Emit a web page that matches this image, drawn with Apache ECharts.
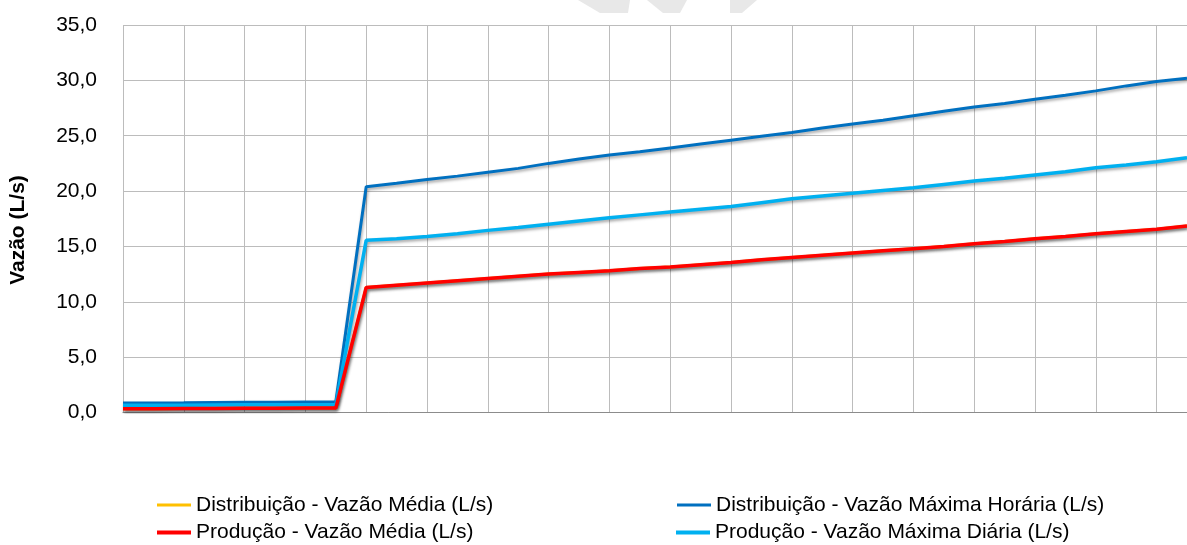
<!DOCTYPE html>
<html>
<head>
<meta charset="utf-8">
<script src="https://cdn.jsdelivr.net/npm/echarts@6/dist/echarts.min.js"></script>
<style>
html,body{margin:0;padding:0;background:#fff;}
#chart{width:1187px;height:545px;}
</style>
</head>
<body>
<div id="chart"></div>
<script>
// Categories (period index; x-axis labels are not shown in the reference)
const categories = ['1','2','3','4','5','6','7','8','9','10','11','12','13','14','15','16','17','18',
  '19','20','21','22','23','24','25','26','27','28','29','30','31','32','33','34','35','36'];

const seriesNames = [
  'Distribuição - Vazão Média (L/s)',
  'Distribuição - Vazão Máxima Horária (L/s)',
  'Produção - Vazão Média (L/s)',
  'Produção - Vazão Máxima Diária (L/s)'
];

// Distribuição - Vazão Máxima Horária
const distMaxHoraria = [0.85,0.85,0.87,0.9,0.92,0.93,0.94,0.95,
  20.4,20.7,21.05,21.35,21.7,22.05,22.5,22.9,23.25,23.55,23.9,24.25,24.6,24.95,25.3,25.7,
  26.05,26.4,26.8,27.2,27.6,27.9,28.3,28.65,29.05,29.5,29.9,30.2];

// Produção - Vazão Máxima Diária
const prodMaxDiaria = [0.65,0.65,0.66,0.68,0.69,0.7,0.7,0.71,
  15.55,15.7,15.9,16.15,16.45,16.7,17.0,17.3,17.6,17.85,18.1,18.35,18.6,18.95,19.3,19.55,
  19.8,20.05,20.3,20.6,20.9,21.15,21.45,21.75,22.1,22.35,22.65,23.0];

// Produção - Vazão Média
const prodMedia = [0.35,0.35,0.36,0.37,0.38,0.39,0.4,0.4,
  11.3,11.5,11.7,11.9,12.1,12.3,12.5,12.65,12.8,13.0,13.15,13.35,13.55,13.8,14.0,14.2,
  14.4,14.6,14.8,15.0,15.25,15.45,15.7,15.9,16.15,16.35,16.55,16.85];

// Distribuição - Vazão Média (hidden beneath the red line in the reference)
const distMedia = [0.35,0.35,0.36,0.37,0.38,0.39,0.4,0.4,
  11.3,11.5,11.7,11.9,12.1,12.3,12.5,12.65,12.8,13.0,13.15,13.35,13.55,13.8,14.0,14.2,
  14.4,14.6,14.8,15.0,15.25,15.45,15.7,15.9,16.15,16.35,16.55,16.85];

const yTicks = {min: 0, max: 35, interval: 5};

const FONT = '"Liberation Sans", Arial, sans-serif';
const chart = echarts.init(document.getElementById('chart'), null, {renderer: 'canvas'});

function lineSeries(name, data, color, width, z) {
  return {
    name: name, type: 'line', data: data, symbol: 'none', z: z,
    lineStyle: {color: color, width: width,
      shadowColor: 'rgba(0,0,0,0.35)', shadowBlur: 3, shadowOffsetX: 1, shadowOffsetY: 2},
    itemStyle: {color: color},
    animation: false
  };
}

const legendText = {fontSize: 21, fontFamily: FONT, color: '#000'};
function legendItem(name, left, top, thick) {
  return {data: [name], left: left, top: top, padding: 0, orient: 'horizontal',
    icon: 'rect', itemWidth: 34, itemHeight: thick, itemGap: 5,
    textStyle: legendText, selectedMode: false};
}

chart.setOption({
  backgroundColor: '#fff',
  animation: false,
  grid: {left: 123, top: 25, right: -7, bottom: 132.5, containLabel: false},
  xAxis: {
    type: 'category', data: categories, boundaryGap: false,
    axisLine: {show: true, lineStyle: {color: '#8c8c8c', width: 1}},
    axisTick: {show: false},
    axisLabel: {show: false},
    splitLine: {show: true, interval: 1, lineStyle: {color: '#bcbcbc', width: 1}}
  },
  yAxis: {
    type: 'value', min: yTicks.min, max: yTicks.max, interval: yTicks.interval,
    axisLine: {show: false}, axisTick: {show: false},
    axisLabel: {fontSize: 21, fontFamily: FONT, color: '#000', margin: 26,
      formatter: v => v.toFixed(1).replace('.', ',')},
    splitLine: {show: true, lineStyle: {color: '#bcbcbc', width: 1}}
  },
  legend: [
    legendItem(seriesNames[0], 157, 494.5, 3),
    legendItem(seriesNames[2], 157, 522, 4),
    legendItem(seriesNames[1], 677, 494.5, 3),
    legendItem(seriesNames[3], 676, 522, 4)
  ],
  graphic: [
    {type: 'text', x: 18, y: 230, rotation: Math.PI / 2,
      style: {text: 'Vazão (L/s)', font: 'bold 21px ' + FONT, fill: '#000',
        align: 'center', verticalAlign: 'middle'}},
    {type: 'polygon', silent: true, z: -10,
      shape: {points: [[578,0],[630,0],[628,13],[600,13]]}, style: {fill: '#e8e8e8'}},
    {type: 'polygon', silent: true, z: -10,
      shape: {points: [[647,0],[687,0],[680,13],[663,13]]}, style: {fill: '#e8e8e8'}},
    {type: 'polygon', silent: true, z: -10,
      shape: {points: [[730,0],[757,0],[742,13],[730,13]]}, style: {fill: '#e8e8e8'}}
  ],
  series: [
    lineSeries(seriesNames[0], distMedia, '#FFC000', 3, 1),
    lineSeries(seriesNames[1], distMaxHoraria, '#0070C0', 3, 2),
    lineSeries(seriesNames[3], prodMaxDiaria, '#00B0F0', 3.5, 3),
    lineSeries(seriesNames[2], prodMedia, '#FF0000', 3.5, 4)
  ]
});
</script>
</body>
</html>
